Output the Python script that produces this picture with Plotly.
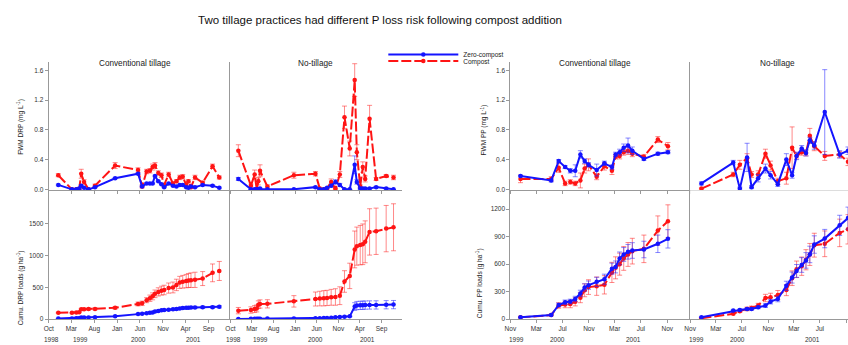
import plotly.graph_objects as go

W, H = 848, 345
BLUE = "#1414ff"
RED = "#ff1414"
BLUE_ERR = "rgba(40,40,255,0.55)"
RED_ERR = "rgba(255,40,40,0.55)"
FONT = "Liberation Sans, Arial, sans-serif"

# ---------------- DRP: conventional tillage ----------------
drp_ct_dates = ["1998-12-04", "1999-03-05", "1999-04-03", "1999-04-22", "1999-05-06", "1999-05-25",
                "1999-06-24", "1999-08-06", "1999-12-18", "2000-05-19", "2000-06-15", "2000-07-15",
                "2000-08-06", "2000-08-24", "2000-09-09", "2000-10-01", "2000-10-22", "2000-11-09",
                "2000-12-09", "2001-01-07", "2001-01-30", "2001-02-21", "2001-03-13", "2001-04-05",
                "2001-04-20", "2001-05-07", "2001-06-03", "2001-07-24", "2001-09-28", "2001-11-12"]
drp_ct_fwm_zero = [0.06, 0.0, 0.0, 0.01, 0.05, 0.02, 0.0, 0.03, 0.15, 0.21, 0.04, 0.08, 0.08, 0.08, 0.18,
                   0.11, 0.07, 0.03, 0.08, 0.05, 0.04, 0.06, 0.06, 0.03, 0.02, 0.04, 0.03, 0.06, 0.05, 0.02]
drp_ct_fwm_zero_err = [0.01] * 30
drp_ct_fwm_comp = [0.19, 0.0, 0.0, 0.0, 0.21, 0.10, 0.0, 0.05, 0.32, 0.26, 0.04, 0.24, 0.25, 0.30, 0.32,
                   0.22, 0.19, 0.06, 0.20, 0.08, 0.11, 0.16, 0.17, 0.06, 0.11, 0.03, 0.16, 0.09, 0.31, 0.16]
drp_ct_fwm_comp_err = [0.02, 0.01, 0.01, 0.01, 0.06, 0.03, 0.01, 0.02, 0.04, 0.03, 0.02, 0.03, 0.03, 0.04,
                       0.04, 0.03, 0.03, 0.02, 0.03, 0.02, 0.02, 0.03, 0.03, 0.02, 0.02, 0.02, 0.03, 0.02,
                       0.03, 0.02]
drp_ct_cum_zero = [10, 12, 14, 16, 25, 27, 28, 30, 45, 80, 85, 95, 100, 105, 120, 130, 140, 145, 150, 155,
                   160, 170, 175, 180, 182, 183, 185, 188, 190, 195]
drp_ct_cum_zero_err = [3, 3, 3, 3, 4, 4, 4, 4, 5, 8, 8, 9, 10, 10, 11, 12, 12, 13, 13, 14, 14, 15, 15, 16,
                       16, 16, 17, 17, 18, 18]
drp_ct_cum_comp = [100, 100, 105, 110, 155, 158, 160, 162, 180, 240, 250, 300, 330, 360, 400, 430, 450,
                   460, 490, 500, 540, 580, 590, 600, 610, 615, 620, 640, 730, 760]
drp_ct_cum_comp_err = [8, 8, 9, 10, 15, 15, 16, 16, 20, 30, 35, 40, 50, 55, 60, 65, 70, 75, 80, 85, 90,
                       95, 100, 105, 110, 115, 120, 110, 140, 150]

# ---------------- DRP: no-tillage ----------------
drp_nt_dates = ["1998-11-26", "1999-02-23", "1999-03-21", "1999-04-05", "1999-04-16", "1999-04-28",
                "1999-06-19", "1999-12-23", "2000-05-23", "2000-06-23", "2000-07-21", "2000-08-13",
                "2000-09-11", "2000-10-11", "2000-11-11", "2000-12-14", "2001-01-20", "2001-02-24",
                "2001-03-11", "2001-04-04", "2001-04-22", "2001-05-09", "2001-06-09", "2001-07-25",
                "2001-10-04", "2001-11-25"]
drp_nt_fwm_zero = [0.14, 0.0, 0.0, 0.0, 0.0, 0.01, 0.0, 0.0, 0.03, 0.0, 0.0, 0.02, 0.05, 0.10, 0.06, 0.0,
                   0.0, 0.33, 0.10, 0.01, 0.01, 0.01, 0.01, 0.03, 0.01, 0.0]
drp_nt_fwm_zero_err = [0.02, 0.0, 0.0, 0.0, 0.0, 0.01, 0.0, 0.0, 0.01, 0.0, 0.0, 0.01, 0.02, 0.03, 0.02,
                       0.0, 0.0, 0.12, 0.03, 0.01, 0.01, 0.01, 0.01, 0.01, 0.01, 0.0]
drp_nt_fwm_comp = [0.52, 0.05, 0.20, 0.0, 0.11, 0.25, 0.04, 0.19, 0.21, 0.01, 0.0, 0.01, 0.10, 0.01, 0.20,
                   0.97, 0.55, 1.47, 0.50, 0.04, 0.30, 0.14, 0.95, 0.14, 0.18, 0.16]
drp_nt_fwm_comp_err = [0.08, 0.02, 0.06, 0.02, 0.05, 0.08, 0.02, 0.04, 0.03, 0.01, 0.01, 0.01, 0.04, 0.01,
                       0.04, 0.15, 0.10, 0.22, 0.10, 0.02, 0.07, 0.04, 0.18, 0.02, 0.02, 0.03]
drp_nt_cum_zero = [5, 6, 7, 7, 8, 9, 10, 12, 15, 16, 17, 19, 22, 30, 35, 40, 45, 200, 215, 218, 220, 222,
                   224, 225, 228, 230]
drp_nt_cum_zero_err = [3, 3, 3, 3, 3, 3, 3, 4, 4, 4, 4, 5, 5, 6, 6, 7, 8, 60, 65, 65, 65, 65, 65, 65, 65, 65]
drp_nt_cum_comp = [135, 145, 160, 170, 229, 240, 242, 281, 318, 325, 330, 335, 345, 350, 370, 594, 682,
                   1099, 1151, 1167, 1180, 1219, 1375, 1385, 1427, 1448]
drp_nt_cum_comp_err = [50, 50, 55, 55, 60, 65, 65, 90, 110, 115, 120, 120, 125, 130, 140, 170, 200, 290,
                       300, 310, 320, 330, 365, 365, 365, 370]

# ---------------- PP: conventional tillage ----------------
pp_ct_dates = ["1999-12-18", "2000-05-09", "2000-06-13", "2000-07-13", "2000-08-06", "2000-08-29",
               "2000-09-22", "2000-10-12", "2000-10-30", "2000-12-07", "2001-01-12", "2001-02-16",
               "2001-03-05", "2001-03-24", "2001-04-12", "2001-05-02", "2001-05-22", "2001-07-15",
               "2001-09-18", "2001-11-04"]
pp_ct_fwm_zero = [0.18, 0.12, 0.38, 0.30, 0.25, 0.25, 0.47, 0.38, 0.33, 0.26, 0.35, 0.30, 0.47, 0.50,
                  0.56, 0.59, 0.52, 0.41, 0.48, 0.50]
pp_ct_fwm_zero_err = [0.01, 0.02, 0.02, 0.02, 0.03, 0.08, 0.05, 0.03, 0.03, 0.08, 0.03, 0.03, 0.03, 0.04,
                      0.05, 0.10, 0.05, 0.02, 0.02, 0.02]
pp_ct_fwm_comp = [0.14, 0.14, 0.29, 0.08, 0.10, 0.08, 0.12, 0.28, 0.33, 0.17, 0.31, 0.25, 0.44, 0.45,
                  0.50, 0.52, 0.48, 0.44, 0.67, 0.58]
pp_ct_fwm_comp_err = [0.05, 0.03, 0.06, 0.03, 0.03, 0.03, 0.10, 0.06, 0.08, 0.04, 0.05, 0.05, 0.03, 0.04,
                      0.04, 0.05, 0.04, 0.03, 0.04, 0.05]
pp_ct_cum_zero = [20, 45, 155, 184, 193, 220, 281, 346, 371, 407, 436, 551, 570, 663, 706, 735, 749, 760,
                  822, 876]
pp_ct_cum_zero_err = [5, 8, 20, 25, 25, 30, 35, 40, 45, 50, 55, 60, 65, 70, 75, 80, 85, 90, 95, 100]
pp_ct_cum_comp = [20, 45, 150, 160, 165, 190, 235, 315, 350, 360, 375, 510, 560, 600, 663, 706, 742, 767,
                  966, 1067]
pp_ct_cum_comp_err = [5, 8, 30, 35, 40, 45, 55, 70, 80, 100, 100, 110, 120, 120, 130, 130, 140, 150, 160, 180]

# ---------------- PP: no-tillage ----------------
pp_nt_dates = ["1999-12-24", "2000-05-21", "2000-06-21", "2000-07-25", "2000-08-15", "2000-09-15",
               "2000-10-19", "2000-11-12", "2000-12-16", "2001-01-25", "2001-02-21", "2001-03-14",
               "2001-04-07", "2001-04-27", "2001-05-15", "2001-06-05", "2001-07-24", "2001-10-02",
               "2001-11-10"]
pp_nt_fwm_zero = [0.08, 0.36, 0.01, 0.43, 0.03, 0.15, 0.28, 0.19, 0.07, 0.40, 0.19, 0.45, 0.55, 0.49,
                  0.66, 0.59, 1.04, 0.47, 0.52]
pp_nt_fwm_zero_err = [0.02, 0.03, 0.02, 0.19, 0.02, 0.05, 0.06, 0.05, 0.03, 0.08, 0.04, 0.05, 0.04, 0.04,
                      0.04, 0.05, 0.57, 0.05, 0.05]
pp_nt_fwm_comp = [0.01, 0.20, 0.33, 0.42, 0.20, 0.20, 0.48, 0.32, 0.11, 0.15, 0.56, 0.45, 0.50, 0.49,
                  0.72, 0.58, 0.45, 0.47, 0.37]
pp_nt_fwm_comp_err = [0.01, 0.03, 0.06, 0.06, 0.04, 0.05, 0.06, 0.06, 0.04, 0.08, 0.28, 0.04, 0.04, 0.04,
                      0.10, 0.06, 0.06, 0.04, 0.05]
pp_nt_cum_zero = [22, 94, 101, 112, 112, 130, 148, 191, 220, 364, 454, 526, 591, 641, 706, 814, 879, 1023,
                  1102]
pp_nt_cum_zero_err = [5, 8, 10, 12, 12, 15, 20, 25, 30, 50, 60, 70, 80, 85, 90, 95, 100, 110, 120]
pp_nt_cum_comp = [10, 59, 88, 112, 123, 148, 231, 238, 263, 317, 447, 544, 578, 648, 706, 807, 822, 941,
                  980]
pp_nt_cum_comp_err = [5, 10, 15, 20, 20, 25, 40, 45, 50, 60, 80, 90, 100, 110, 120, 130, 140, 150, 160]

# ---------------- tick labels ----------------
drp_tickvals = ["1998-10-01", "1999-03-01", "1999-08-01", "2000-01-01", "2000-06-01", "2000-11-01",
                "2001-04-01", "2001-09-01"]
drp_ticktext = ["Oct", "Mar", "Aug", "Jan", "Jun", "Nov", "Apr", "Sep"]
drp_year_pos = ["1998-10-22", "1999-05-01", "2000-05-20", "2001-05-25"]
drp_year_text = ["1998", "1999", "2000", "2001"]

pp_tickvals = ["1999-11-01", "2000-03-01", "2000-07-01", "2000-11-01", "2001-03-01", "2001-07-01",
               "2001-11-01"]
pp_ticktext = ["Nov", "Mar", "Jul", "Nov", "Mar", "Jul", "Nov"]
pp_year_pos = ["1999-12-01", "2000-06-08", "2001-05-26"]
pp_year_text = ["1999", "2000", "2001"]

fwm_tickvals = [0.0, 0.4, 0.8, 1.2, 1.6]
fwm_ticktext = ["0.0", "0.4", "0.8", "1.2", "1.6"]
drp_cum_tickvals = [0, 500, 1000, 1500]
pp_cum_tickvals = [0, 300, 600, 900, 1200]

series_names = ["Zero-compost", "Compost"]
panel_titles = ["Conventional tillage", "No-tillage", "Conventional tillage", "No-tillage"]

# ---------------- layout helpers (pixel geometry) ----------------
def xd(a, b):
    return [max(0.0, a / W), min(1.0, b / W)]


def yd(top, bottom):
    return [1 - bottom / H, 1 - top / H]


TOP = yd(63, 192)
BOT = yd(192, 322)

fig = go.Figure()


def add_pair(n, dates, zero, zero_err, comp, comp_err, legend_on=False):
    xa, ya = "x%d" % n if n > 1 else "x", "y%d" % n if n > 1 else "y"
    fig.add_trace(go.Scatter(
        x=dates, y=comp, xaxis=xa, yaxis=ya, mode="lines+markers", name=series_names[1],
        line=dict(color=RED, width=2, dash="10px,3px"),
        marker=dict(color=RED, size=4.5, symbol="circle"),
        error_y=dict(type="data", array=comp_err, color=RED_ERR, thickness=1, width=2.5),
        showlegend=legend_on, legend="legend2"))
    fig.add_trace(go.Scatter(
        x=dates, y=zero, xaxis=xa, yaxis=ya, mode="lines+markers", name=series_names[0],
        line=dict(color=BLUE, width=2),
        marker=dict(color=BLUE, size=4.5, symbol="circle"),
        error_y=dict(type="data", array=zero_err, color=BLUE_ERR, thickness=1, width=2.5),
        showlegend=legend_on, legend="legend"))


add_pair(1, drp_ct_dates, drp_ct_fwm_zero, drp_ct_fwm_zero_err, drp_ct_fwm_comp, drp_ct_fwm_comp_err, True)
add_pair(2, drp_nt_dates, drp_nt_fwm_zero, drp_nt_fwm_zero_err, drp_nt_fwm_comp, drp_nt_fwm_comp_err)
add_pair(3, drp_ct_dates, drp_ct_cum_zero, drp_ct_cum_zero_err, drp_ct_cum_comp, drp_ct_cum_comp_err)
add_pair(4, drp_nt_dates, drp_nt_cum_zero, drp_nt_cum_zero_err, drp_nt_cum_comp, drp_nt_cum_comp_err)
add_pair(5, pp_ct_dates, pp_ct_fwm_zero, pp_ct_fwm_zero_err, pp_ct_fwm_comp, pp_ct_fwm_comp_err)
add_pair(6, pp_nt_dates, pp_nt_fwm_zero, pp_nt_fwm_zero_err, pp_nt_fwm_comp, pp_nt_fwm_comp_err)
add_pair(7, pp_ct_dates, pp_ct_cum_zero, pp_ct_cum_zero_err, pp_ct_cum_comp, pp_ct_cum_comp_err)
add_pair(8, pp_nt_dates, pp_nt_cum_zero, pp_nt_cum_zero_err, pp_nt_cum_comp, pp_nt_cum_comp_err)

AX = "#999999"
TICKFONT = dict(family=FONT, size=6.5, color="#333333")


def xaxis(dom, rng, tv, tt, anchor, labels):
    return dict(domain=dom, range=rng, type="date", anchor=anchor, showgrid=False, zeroline=False,
                showline=True, linecolor=AX, linewidth=1, ticks="outside", ticklen=3, tickcolor=AX,
                tickvals=tv, ticktext=tt, showticklabels=labels, tickfont=TICKFONT)


def yaxis(dom, rng, tv, tt, anchor, labels):
    return dict(domain=dom, range=rng, anchor=anchor, showgrid=False, zeroline=False, showline=True,
                linecolor=AX, linewidth=1, ticks="outside" if labels else "", ticklen=3, tickcolor=AX,
                tickvals=tv, ticktext=tt, showticklabels=labels, tickfont=TICKFONT)


DRP_RANGE = ["1998-10-01", "2002-01-25"]
PP_CT_RANGE = ["1999-11-01", "2002-02-20"]
PP_NT_RANGE = ["1999-11-01", "2001-11-10"]
FWM_RANGE = [-0.013, 1.707]
DRP_CUM_RANGE = [0, 2030]
PP_CUM_RANGE = [0, 1405]

X_CT = xd(43, 226)
X_NT = xd(226, 399)
X_PCT = xd(508, 690)
X_PNT = xd(689, 848)

layout = dict(
    width=W, height=H, margin=dict(l=0, r=0, t=0, b=0),
    paper_bgcolor="white", plot_bgcolor="white",
    font=dict(family=FONT, color="#222222"),
    title=dict(text="Two tillage practices had different P loss risk following compost addition",
               x=380 / W, xanchor="center", y=1 - 20 / H, yanchor="middle",
               font=dict(family=FONT, size=11.5, color="#111111")),
    xaxis=xaxis(X_CT, DRP_RANGE, drp_tickvals, drp_ticktext, "y", False),
    yaxis=yaxis(TOP, FWM_RANGE, fwm_tickvals, fwm_ticktext, "x", True),
    xaxis2=xaxis(X_NT, DRP_RANGE, drp_tickvals, drp_ticktext, "y2", False),
    yaxis2=yaxis(TOP, FWM_RANGE, fwm_tickvals, fwm_ticktext, "x2", False),
    xaxis3=xaxis(X_CT, DRP_RANGE, drp_tickvals, drp_ticktext, "y3", True),
    yaxis3=yaxis(BOT, DRP_CUM_RANGE, drp_cum_tickvals, [str(v) for v in drp_cum_tickvals], "x3", True),
    xaxis4=xaxis(X_NT, DRP_RANGE, drp_tickvals, drp_ticktext, "y4", True),
    yaxis4=yaxis(BOT, DRP_CUM_RANGE, drp_cum_tickvals, [str(v) for v in drp_cum_tickvals], "x4", False),
    xaxis5=xaxis(X_PCT, PP_CT_RANGE, pp_tickvals, pp_ticktext, "y5", False),
    yaxis5=yaxis(TOP, FWM_RANGE, fwm_tickvals, fwm_ticktext, "x5", True),
    xaxis6=xaxis(X_PNT, PP_NT_RANGE, pp_tickvals, pp_ticktext, "y6", False),
    yaxis6=yaxis(TOP, FWM_RANGE, fwm_tickvals, fwm_ticktext, "x6", False),
    xaxis7=xaxis(X_PCT, PP_CT_RANGE, pp_tickvals, pp_ticktext, "y7", True),
    yaxis7=yaxis(BOT, PP_CUM_RANGE, pp_cum_tickvals, [str(v) for v in pp_cum_tickvals], "x7", True),
    xaxis8=xaxis(X_PNT, PP_NT_RANGE, pp_tickvals, pp_ticktext, "y8", True),
    yaxis8=yaxis(BOT, PP_CUM_RANGE, pp_cum_tickvals, [str(v) for v in pp_cum_tickvals], "x8", False),
    legend=dict(x=380 / W, xanchor="left", y=1 - 55 / H, yanchor="middle", bgcolor="rgba(0,0,0,0)",
                font=dict(family=FONT, size=6.5, color="#222"), itemwidth=70, borderwidth=0),
    legend2=dict(x=380 / W, xanchor="left", y=1 - 61.5 / H, yanchor="middle", bgcolor="rgba(0,0,0,0)",
                 font=dict(family=FONT, size=6.5, color="#222"), itemwidth=70, borderwidth=0),
)
fig.update_layout(**layout)

ann = []
# panel titles
for (cx, t) in zip([130, 312, 593, 777], panel_titles):
    ann.append(dict(text=t, x=cx / W, y=1 - 64 / H, xref="paper", yref="paper", showarrow=False,
                    xanchor="center", yanchor="middle", font=dict(family=FONT, size=8.2, color="#222")))
# y-axis titles
ytitles = [("FWM DRP (mg L<sup>-1</sup>)", 15, 128), ("Cumu. DRP loads (g ha<sup>-1</sup>)", 15, 290),
           ("FWM PP (mg L<sup>-1</sup>)", 482, 131), ("Cumu. PP loads (g ha<sup>-1</sup>)", 477, 286)]
for t, px, py in ytitles:
    ann.append(dict(text=t, x=px / W, y=1 - py / H, xref="paper", yref="paper", showarrow=False,
                    textangle=-90, xanchor="center", yanchor="middle",
                    font=dict(family=FONT, size=6.5, color="#222")))
# year labels
for xr, pos, txt in [("x3", drp_year_pos, drp_year_text), ("x4", drp_year_pos, drp_year_text),
                     ("x7", pp_year_pos, pp_year_text), ("x8", pp_year_pos, pp_year_text)]:
    for p, t in zip(pos, txt):
        ann.append(dict(text=t, x=p, y=1 - 342 / H, xref=xr, yref="paper", showarrow=False,
                        xanchor="center", yanchor="middle", font=dict(family=FONT, size=6.5, color="#333")))
fig.update_layout(annotations=ann)

fig.write_html("out.html", config={"displayModeBar": False},
               post_script="document.body.style.margin='0';document.body.style.overflow='hidden';")
